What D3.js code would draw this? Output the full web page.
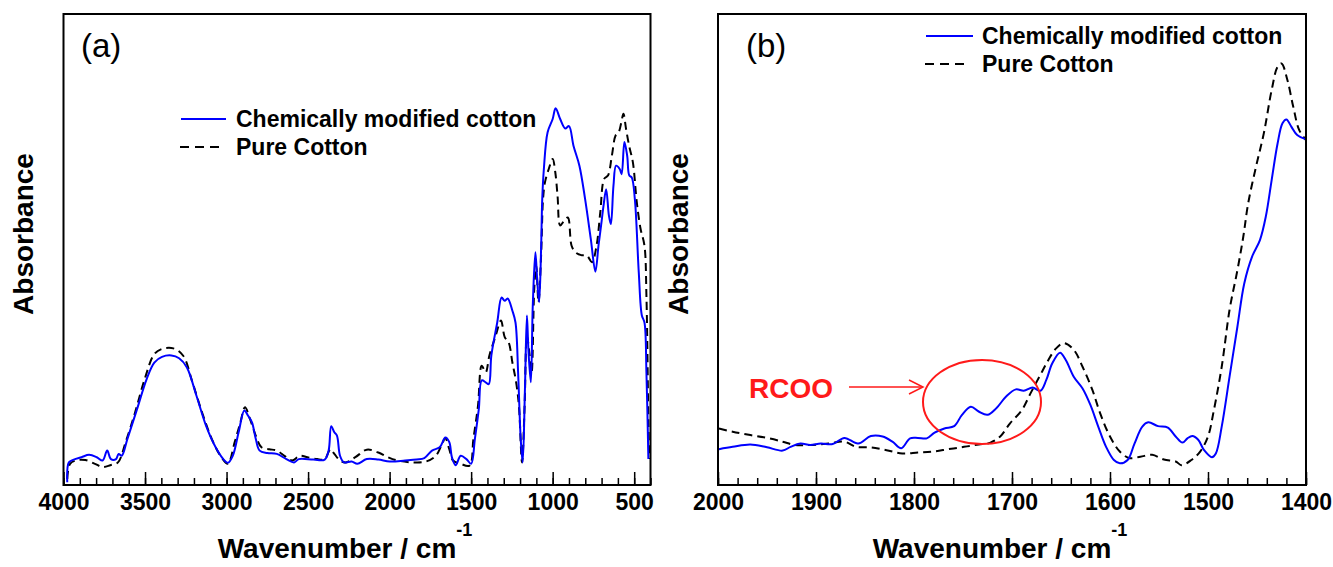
<!DOCTYPE html>
<html>
<head>
<meta charset="utf-8">
<script src="https://cdn.jsdelivr.net/npm/d3@7"></script>
<style>
  html, body { margin: 0; padding: 0; background: #fff; }
  svg { display: block; }
  text { font-family: "Liberation Sans", Arial, sans-serif; }
</style>
</head>
<body>
<svg id="chart" width="1333" height="567"></svg>
<script>
// ---------- Panel (a) data : wavenumber (cm-1) and absorbance (a.u.) ----------
const aModWn = [3977,3967,3937,3890,3843,3796,3760,3732,3709,3678,
  3662,3643,3608,3549,3490,3443,3396,3338,3291,3244,
  3185,3126,3067,3020,2992,2962,2926,2891,2868,2844,
  2821,2797,2750,2692,2633,2586,2557,2468,2398,2374,
  2358,2339,2323,2304,2280,2233,2198,2140,2069,1999,
  1905,1834,1787,1740,1693,1658,1634,1618,1595,1564,
  1529,1500,1477,1453,1435,1411,1392,1376,1340,1313,
  1294,1276,1247,1228,1212,1196,1184,1170,1158,1149,
  1134,1122,1106,1094,1083,1071,1064,1054,1031,1000,
  982,954,923,900,872,836,801,766,738,719,
  703,688,672,655,643,627,611,589,577,560,
  543,530,515,496,472,453,437,425,413];
const aModAbs = [0.6,4.8,5.4,5.9,6.4,5.9,5.2,7.3,5.5,5.5,
  6.6,6.2,9.8,16.1,22.5,26.0,27.2,27.5,26.9,25.0,
  19.0,12.6,8.0,5.5,4.7,6.2,11.2,15.8,14.7,13.3,
  9.8,7.3,6.8,6.6,5.5,4.8,5.5,5.4,5.4,7.3,
  12.5,11.2,10.5,6.2,4.8,5.0,4.5,5.5,5.4,5.0,
  5.2,5.4,5.7,7.3,8.0,10.1,9.1,5.9,4.2,6.2,
  5.5,4.5,9.8,16.1,22.2,21.8,21.4,27.5,34.5,39.8,
  39.1,39.6,37.0,34.5,23.9,9.8,4.8,20.4,36.0,28.9,
  21.8,38.1,49.4,43.0,38.8,50.1,60.7,67.1,74.9,77.7,
  80.0,77.7,75.7,76.2,72.0,67.8,60.7,52.2,45.3,50.8,
  55.1,59.3,62.8,57.2,55.4,63.6,67.8,67.1,66.0,72.8,
  69.9,65.7,65.3,60.7,45.2,36.0,34.5,23.9,5.5];
const aPureWn = [3977,3960,3925,3866,3807,3760,3713,3666,3619,3561,
  3502,3443,3396,3326,3267,3209,3150,3091,3032,2992,
  2950,2915,2887,2856,2821,2786,2738,2692,2645,2598,
  2551,2504,2445,2398,2363,2339,2304,2269,2210,2140,
  2069,2010,1952,1858,1776,1717,1682,1658,1634,1611,
  1564,1510,1486,1458,1435,1411,1388,1352,1317,1294,
  1270,1247,1224,1207,1188,1172,1158,1141,1129,1113,
  1101,1087,1071,1059,1047,1024,1000,984,970,954,
  930,907,884,860,825,790,759,731,708,684,
  661,637,614,595,579,566,550,531,508,484,
  461,437,425,413,408];
const aPureAbs = [1.3,4.5,5.2,5.3,4.5,3.8,4.2,4.8,9.1,15.4,
  22.5,27.8,28.9,29.0,27.5,21.8,15.4,9.8,5.9,4.5,
  9.1,13.3,16.5,14.0,10.5,8.0,7.6,7.3,6.2,5.2,
  6.2,5.9,5.5,5.5,7.6,6.6,5.2,4.8,5.9,7.5,
  6.9,5.9,5.2,4.8,5.0,6.2,8.4,9.9,7.6,5.2,
  4.5,4.1,9.8,16.8,25.3,23.9,27.5,31.4,34.9,31.4,
  30.3,26.0,21.8,16.8,4.8,16.8,31.7,27.5,23.9,41.6,
  46.6,38.8,48.7,60.7,64.3,67.1,69.2,66.4,61.4,55.1,
  56.1,56.8,50.8,49.4,48.8,48.7,47.3,50.8,57.9,65.0,
  65.7,69.9,74.2,74.9,77.0,78.8,75.6,72.0,68.5,60.0,
  54.4,50.8,40.2,13.3,5.5];

// ---------- Panel (b) data ----------
const bModWn = [1999,1985,1967,1950,1934,1926,1916,1906,1895,1883,
  1871,1857,1844,1832,1822,1813,1804,1796,1787,1779,
  1769,1759,1751,1742,1734,1725,1716,1706,1696,1688,
  1679,1671,1665,1659,1651,1645,1637,1628,1620,1612,
  1604,1596,1590,1582,1575,1567,1561,1551,1541,1533,
  1526,1521,1516,1510,1504,1496,1492,1486,1478,1470,
  1463,1455,1447,1441,1435,1429,1424,1420,1415,1409,1400];
const bModAbs = [7.6,8.1,8.6,8.0,7.3,8.1,8.8,8.5,8.8,8.7,
  10.0,8.8,10.4,10.3,9.2,7.8,9.9,10.0,9.9,11.1,
  12.0,12.5,14.9,16.6,15.6,14.9,16.3,18.8,20.3,20.0,
  20.7,20.0,22.3,25.8,28.1,26.5,23.0,20.5,17.0,12.4,
  8.1,5.3,4.6,5.3,8.8,12.4,13.3,12.5,12.2,10.3,
  9.0,9.9,10.4,9.6,7.4,5.9,6.7,12.4,23.0,33.6,
  42.8,48.5,52.0,57.0,64.8,72.5,76.8,77.6,76.1,74.3,73.4];
const bPureWn = [1999,1985,1967,1950,1934,1922,1906,1887,1871,1859,
  1844,1828,1812,1796,1781,1765,1749,1734,1722,1712,
  1702,1690,1681,1671,1663,1655,1647,1637,1628,1618,
  1610,1600,1590,1580,1569,1557,1545,1533,1527,1517,
  1508,1500,1494,1486,1478,1470,1464,1459,1451,1443,
  1435,1429,1425,1419,1413,1407,1400];
const bPureAbs = [12.0,11.3,10.6,10.0,9.2,8.5,8.5,8.8,9.2,8.1,
  8.0,7.4,6.7,6.9,7.1,7.6,8.1,8.6,9.0,10.3,
  13.1,15.9,19.5,23.4,26.5,29.0,30.1,28.7,25.1,20.2,
  15.2,10.3,7.1,5.7,6.0,6.4,5.4,5.0,4.2,5.3,
  7.1,10.3,15.9,25.1,37.2,45.6,52.7,59.8,67.6,74.7,
  83.9,88.8,89.5,86.0,80.3,75.4,73.2];

// ---------- Tick labels & texts ----------
const aTicks = [4000,3500,3000,2500,2000,1500,1000,500];
const bTicks = [2000,1900,1800,1700,1600,1500,1400];
const seriesNames = ["Chemically modified cotton", "Pure Cotton"];
const panelLabels = ["(a)", "(b)"];
const xTitle = "Wavenumber / cm";
const yTitle = "Absorbance";
const annotation = "RCOO";

// ---------- Drawing ----------
const svg = d3.select("#chart");
const plotTop = 14, plotBottom = 485;
const BLUE = "#0000ff";

function zip(w, a) { return w.map((d, i) => ({ w: d, a: a[i] })); }

function panel(opts) {
  const x = d3.scaleLinear().domain(opts.domain).range([opts.left, opts.right]);
  const y = d3.scaleLinear().domain([0, 100]).range([plotBottom, plotTop]);
  const g = svg.append("g");

  const clipId = "clip" + opts.id;
  svg.append("clipPath").attr("id", clipId).append("rect")
    .attr("x", opts.left).attr("y", plotTop).attr("width", opts.right - opts.left).attr("height", plotBottom - plotTop);

  const line = d3.line().x(d => x(d.w)).y(d => y(d.a)).curve(d3.curveCatmullRom.alpha(0.5));

  g.append("path").datum(zip(opts.pureWn, opts.pureAbs))
    .attr("clip-path", `url(#${clipId})`)
    .attr("d", line).attr("fill", "none").attr("stroke", "#000")
    .attr("stroke-width", 2).attr("stroke-dasharray", "8,5");
  g.append("path").datum(zip(opts.modWn, opts.modAbs))
    .attr("clip-path", `url(#${clipId})`)
    .attr("d", line).attr("fill", "none").attr("stroke", BLUE)
    .attr("stroke-width", 2);

  // minor & major ticks (inward)
  const minor = d3.range(opts.domain[1], opts.domain[0] + 0.001, opts.minorStep);
  const majorAxis = d3.axisBottom(x).tickValues(opts.ticks).tickSizeInner(-13).tickSizeOuter(0).tickFormat("");
  const minorAxis = d3.axisBottom(x).tickValues(minor).tickSizeInner(-7).tickSizeOuter(0).tickFormat("");
  const gm = g.append("g").attr("transform", `translate(0,${plotBottom})`).call(minorAxis);
  const gM = g.append("g").attr("transform", `translate(0,${plotBottom})`).call(majorAxis);
  [gm, gM].forEach(s => { s.select(".domain").remove(); s.selectAll("line").attr("stroke", "#000").attr("stroke-width", 1.5); });

  // tick labels
  const lab = d3.axisBottom(x).tickValues(opts.ticks).tickSize(0).tickFormat(d3.format("d"));
  const gl = g.append("g").attr("transform", `translate(0,${plotBottom})`).call(lab);
  gl.select(".domain").remove();
  gl.selectAll("text").attr("y", 0).attr("dy", 0).attr("transform", "translate(0,25)")
    .attr("font-family", "Liberation Sans, Arial, sans-serif")
    .attr("font-size", 23).attr("font-weight", "bold").attr("fill", "#000");

  // frame
  g.append("rect").attr("x", opts.left).attr("y", plotTop)
    .attr("width", opts.right - opts.left).attr("height", plotBottom - plotTop)
    .attr("fill", "none").attr("stroke", "#000").attr("stroke-width", 2);

  // axis titles
  const cx = (opts.left + opts.right) / 2 - 12;
  const t = g.append("text").attr("x", cx).attr("y", 558).attr("text-anchor", "middle")
    .attr("font-size", 28).attr("font-weight", "bold");
  t.append("tspan").text(xTitle);
  t.append("tspan").attr("dy", -22).attr("font-size", 18).text("-1");

  g.append("text")
    .attr("transform", `translate(${opts.left - 30.5},${234}) rotate(-90)`)
    .attr("text-anchor", "middle").attr("font-size", 28).attr("font-weight", "bold")
    .text(yTitle);

  // panel label
  g.append("text").attr("x", opts.labelX).attr("y", 57).attr("font-size", 33).text(opts.label);

  // legend
  const L = opts.legend;
  g.append("line").attr("x1", L.x1).attr("x2", L.x2).attr("y1", L.y).attr("y2", L.y)
    .attr("stroke", BLUE).attr("stroke-width", 2);
  g.append("text").attr("x", L.tx).attr("y", L.y + 8).attr("font-size", 23).attr("font-weight", "bold").text(seriesNames[0]);
  g.append("line").attr("x1", L.x1 - 1).attr("x2", L.x2 - 4).attr("y1", L.y + 28).attr("y2", L.y + 28)
    .attr("stroke", "#000").attr("stroke-width", 2).attr("stroke-dasharray", "9,6");
  g.append("text").attr("x", L.tx).attr("y", L.y + 36).attr("font-size", 23).attr("font-weight", "bold").text(seriesNames[1]);

  return { x, y, g };
}

panel({ id: "a", left: 63.5, right: 650.5, domain: [4000, 400], ticks: aTicks, minorStep: 100,
  modWn: aModWn, modAbs: aModAbs, pureWn: aPureWn, pureAbs: aPureAbs,
  label: panelLabels[0], labelX: 81, legend: { x1: 181, x2: 226, y: 119, tx: 236 } });

panel({ id: "b", left: 718, right: 1306, domain: [2000, 1400], ticks: bTicks, minorStep: 20,
  modWn: bModWn, modAbs: bModAbs, pureWn: bPureWn, pureAbs: bPureAbs,
  label: panelLabels[1], labelX: 746, legend: { x1: 926, x2: 973, y: 36, tx: 982 } });

// RCOO annotation
const RED = "#ff1a1a";
svg.append("text").attr("x", 749).attr("y", 398).attr("font-size", 28).attr("font-weight", "bold")
  .attr("fill", RED).text(annotation);
svg.append("line").attr("x1", 849).attr("x2", 922).attr("y1", 387).attr("y2", 387)
  .attr("stroke", RED).attr("stroke-width", 1.5);
svg.append("path").attr("d", "M909,380 L923,387 L909,394").attr("fill", "none")
  .attr("stroke", RED).attr("stroke-width", 1.5);
svg.append("ellipse").attr("cx", 982).attr("cy", 402).attr("rx", 59).attr("ry", 42)
  .attr("fill", "none").attr("stroke", RED).attr("stroke-width", 2);
</script>
</body>
</html>
